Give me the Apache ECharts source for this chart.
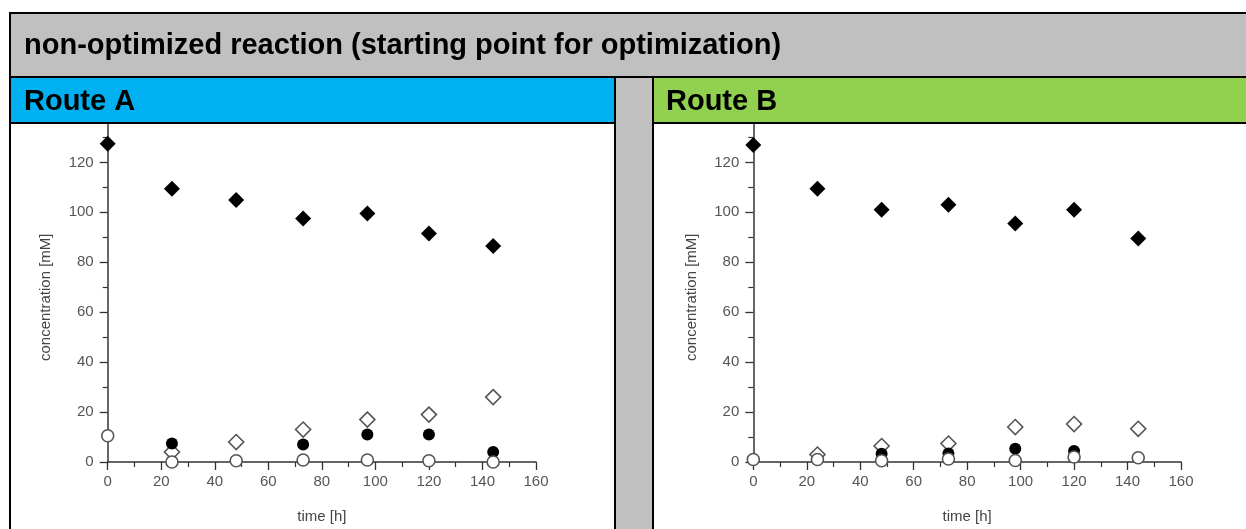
<!DOCTYPE html>
<html><head><meta charset="utf-8">
<script src="https://cdn.jsdelivr.net/npm/echarts@6/dist/echarts.min.js"></script>
<style>html,body{margin:0;padding:0;background:#fff}#c{width:1246px;height:529px}</style>
</head><body><div id="c"></div>
<script>
// ---- data ----
const titleText = 'non-optimized reaction (starting point for optimization)';
const panelTitles = ['Route A', 'Route B'];
const xAxisName = 'time [h]';
const yAxisName = 'concentration [mM]';
const xRange = [0, 160];   // min, max
const xStep = 20;
const yRange = [0, 140];
const yStep = 20;

const timeA = [0, 24, 48, 73, 97, 120, 144];
const substrateA    = [127.5, 109.5, 105, 97.5, 99.5, 91.5, 86.5];
const openDiamondA  = [null, 4, 8, 13, 17, 19, 26];
const filledCircleA = [null, 7.4, null, 7, 11, 11, 4];
const openCircleA   = [10.5, 0, 0.5, 0.8, 0.8, 0.5, 0];

const timeB = [0, 24, 48, 73, 98, 120, 144];
const substrateB    = [127, 109.5, 101, 103, 95.5, 101, 89.5];
const openDiamondB  = [null, 3, 6.4, 7.4, 14, 15.2, 13.3];
const filledCircleB = [null, null, 3.3, 3.4, 5.3, 4.4, null];
const openCircleB   = [1, 1, 0.5, 1.2, 0.6, 2, 1.7];

// ---- chart ----
const FONT = 'Liberation Sans, Arial, sans-serif';
const pairs = (t, v) => t.map((x, i) => [x, v[i]]).filter(p => p[1] != null);

function xAxis(gi) {
  return {
    gridIndex: gi, type: 'value', min: xRange[0], max: xRange[1], interval: xStep,
    name: xAxisName, nameLocation: 'middle', nameGap: 47,
    nameTextStyle: { fontFamily: FONT, fontSize: 15, color: '#444' },
    axisLine: { onZero: false, lineStyle: { color: '#333', width: 1.5 } },
    axisTick: { inside: false, length: 8, lineStyle: { color: '#333', width: 1.3 } },
    minorTick: { show: true, splitNumber: 2, length: 5, lineStyle: { color: '#333', width: 1.2 } },
    axisLabel: { fontFamily: FONT, fontSize: 15, color: '#555', margin: 12 },
    splitLine: { show: false }
  };
}
function yAxis(gi) {
  return {
    gridIndex: gi, type: 'value', min: yRange[0], max: yRange[1], interval: yStep,
    name: yAxisName, nameLocation: 'middle', nameGap: 54, nameRotate: 90,
    nameTextStyle: { fontFamily: FONT, fontSize: 15, color: '#444', padding: [0, 20, 0, 0] },
    axisLine: { onZero: false, lineStyle: { color: '#333', width: 1.5 } },
    axisTick: { inside: false, length: 8, lineStyle: { color: '#333', width: 1.3 } },
    minorTick: { show: true, splitNumber: 2, length: 5, lineStyle: { color: '#333', width: 1.2 } },
    axisLabel: { fontFamily: FONT, fontSize: 15, color: '#555', margin: 14 },
    splitLine: { show: false }
  };
}
function seriesFor(gi, t, s, od, fc, oc) {
  const base = { type: 'scatter', xAxisIndex: gi, yAxisIndex: gi, clip: false, silent: true };
  return [
    Object.assign({}, base, { data: pairs(t, s), symbol: 'diamond', symbolSize: 16,
      itemStyle: { color: '#000', opacity: 1 } }),
    Object.assign({}, base, { data: pairs(t, od), symbol: 'diamond', symbolSize: 15,
      itemStyle: { color: '#fff', borderColor: '#555', borderWidth: 1.6, opacity: 1 } }),
    Object.assign({}, base, { data: pairs(t, fc), symbol: 'circle', symbolSize: 12,
      itemStyle: { color: '#000', opacity: 1 } }),
    Object.assign({}, base, { data: pairs(t, oc), symbol: 'circle', symbolSize: 12,
      itemStyle: { color: '#fff', borderColor: '#555', borderWidth: 1.6, opacity: 1 } })
  ];
}

const Z = 100;
const rect = (x, y, w, h, fill) => ({ type: 'rect', z: Z, silent: true,
  shape: { x, y, width: w, height: h }, style: { fill } });
const text = (x, y, str, size) => ({ type: 'text', z: Z + 1, silent: true, x, y,
  style: { text: str, fill: '#000', font: 'bold ' + size + 'px ' + FONT, verticalAlign: 'middle', align: 'left' } });

const graphic = [
  rect(9, 12, 1237, 66, '#c0c0c0'),
  rect(11, 78, 604, 45, '#00b0f0'),
  rect(654, 78, 592, 45, '#92d050'),
  rect(616, 78, 37, 451, '#c0c0c0'),
  rect(9, 12, 1237, 2, '#000'),
  rect(9, 76, 1237, 2, '#000'),
  rect(9, 12, 2, 517, '#000'),
  rect(9, 122, 606, 2, '#000'),
  rect(652, 122, 594, 2, '#000'),
  rect(614, 76, 2, 453, '#000'),
  rect(652, 76, 2, 453, '#000'),
  text(24, 45.5, titleText, 29),
  text(24, 101.5, panelTitles[0], 29),
  text(666, 101.5, panelTitles[1], 29)
];

const chart = echarts.init(document.getElementById('c'), null, { renderer: 'canvas' });
chart.setOption({
  backgroundColor: '#fff',
  animation: false,
  grid: [
    { left: 107.7, width: 428.3, top: 112.5, height: 351.8 },
    { left: 753.3, width: 427.7, top: 112.5, height: 351.8 }
  ],
  xAxis: [xAxis(0), xAxis(1)],
  yAxis: [yAxis(0), yAxis(1)],
  series: [].concat(
    seriesFor(0, timeA, substrateA, openDiamondA, filledCircleA, openCircleA),
    seriesFor(1, timeB, substrateB, openDiamondB, filledCircleB, openCircleB)
  ),
  graphic: graphic
});
</script></body></html>
